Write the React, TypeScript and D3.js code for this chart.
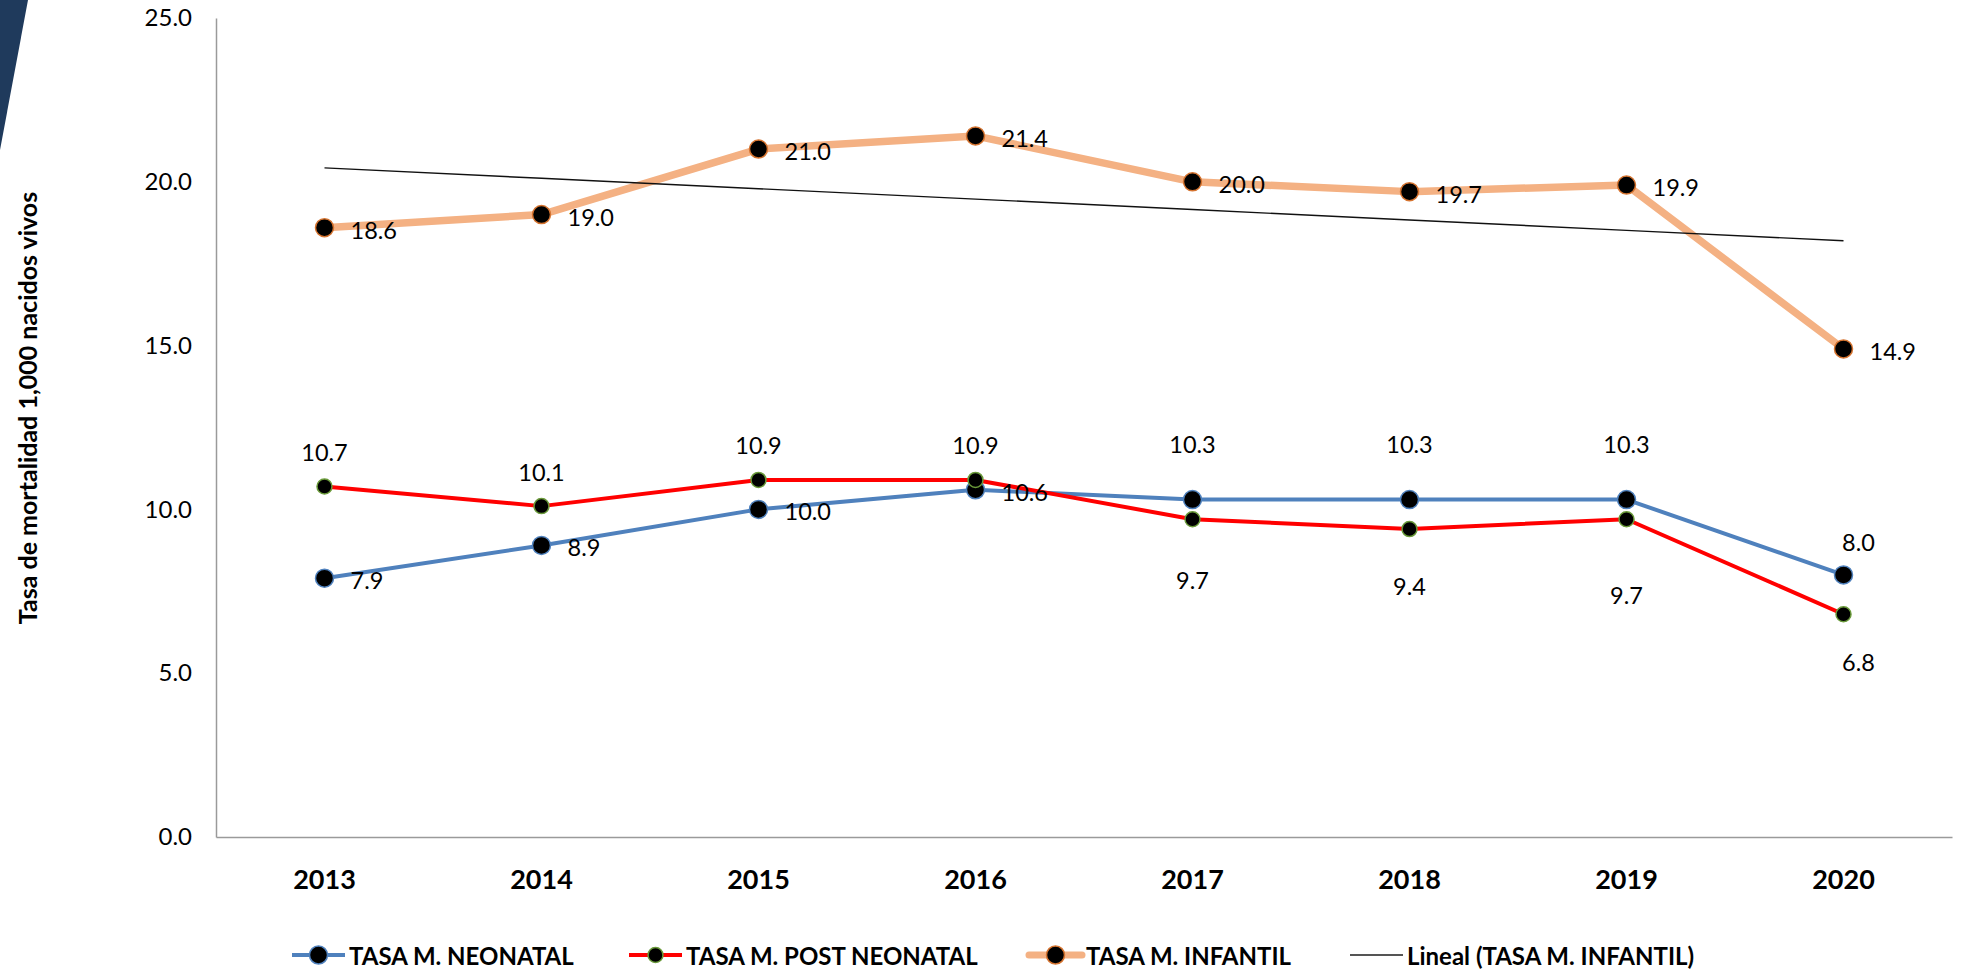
import React, { useRef, useEffect } from 'react';
import * as d3 from 'd3';

const years = ['2013', '2014', '2015', '2016', '2017', '2018', '2019', '2020'];
const neonatal = [7.9, 8.9, 10.0, 10.6, 10.3, 10.3, 10.3, 8.0];
const postNeonatal = [10.7, 10.1, 10.9, 10.9, 9.7, 9.4, 9.7, 6.8];
const infantil = [18.6, 19.0, 21.0, 21.4, 20.0, 19.7, 19.9, 14.9];
const yTicks = [0, 5, 10, 15, 20, 25];

const legendNames = ['TASA M. NEONATAL', 'TASA M. POST NEONATAL', 'TASA M. INFANTIL', 'Lineal (TASA M. INFANTIL)'];
const yTitle = 'Tasa de mortalidad 1,000 nacidos vivos';

// donde va cada etiqueta (dx, dy respecto al marcador)
const neoLabelOff = [[26, 2], [26, 2], [26, 2], [26, 2], [0, -56], [0, -56], [0, -56], [15, -33]];
const postLabelOff = [[0, -34], [0, -34], [0, -35], [0, -35], [0, 61], [0, 57], [0, 76], [15, 48]];
const infLabelOff = [[26, 2], [26, 2], [26, 2], [26, 2], [26, 2], [26, 2], [26, 2], [26, 2]];

const FONT = 'Lato, "DejaVu Sans", sans-serif';

const plot = (svgRef) => {
     const svg = d3.select(svgRef.current);
     svg.selectAll('*').remove();

     const margin = { left: 216, right: 13, top: 18, bottom: 134 };
     const width = 1965;
     const height = 971;

     const x = d3.scaleBand()
          .domain(years)
          .range([margin.left, width - margin.right])
          .padding(0);

     const y = d3.scaleLinear()
          .domain([0, 25])
          .range([height - margin.bottom, margin.top]);

     const cx = (i) => x(years[i]) + x.bandwidth() / 2;

     // decoracion esquina
     svg.append('polygon')
          .attr('points', '0,0 28,0 0,150')
          .attr('fill', '#1f3a5c');

     // eje y
     const yAxis = d3.axisLeft(y).tickValues(yTicks).tickFormat(d3.format('.1f')).tickSize(0).tickPadding(24);
     svg.append('g')
          .attr('transform', `translate(${margin.left},0)`)
          .call(yAxis)
          .call(g => g.select('.domain').attr('stroke', '#9a9a9a').attr('stroke-width', 1.5))
          .call(g => g.selectAll('text').attr('font-family', FONT).attr('font-size', 24).attr('fill', '#000'));

     // eje x
     const xAxis = d3.axisBottom(x).tickSize(0).tickPadding(30);
     svg.append('g')
          .attr('transform', `translate(0,${height - margin.bottom})`)
          .call(xAxis)
          .call(g => g.select('.domain').attr('stroke', '#9a9a9a').attr('stroke-width', 1.5))
          .call(g => g.selectAll('text')
               .attr('font-family', FONT).attr('font-size', 27).attr('font-weight', 'bold').attr('fill', '#000')
               .attr('dy', null).attr('dominant-baseline', 'central').attr('y', 41));

     // titulo eje y
     svg.append('text')
          .attr('transform', `translate(37,408) rotate(-90)`)
          .attr('text-anchor', 'middle')
          .attr('font-family', FONT)
          .attr('font-size', 25)
          .attr('font-weight', 'bold')
          .text(yTitle);

     const line = d3.line().x((d, i) => cx(i)).y(d => y(d));

     const series = [
          { data: neonatal, color: '#4f81bd', width: 4, r: 9, mstroke: '#4f81bd', off: neoLabelOff },
          { data: postNeonatal, color: '#ff0000', width: 4, r: 7.5, mstroke: '#6a9a3a', off: postLabelOff },
          { data: infantil, color: '#f4b183', width: 7.5, r: 9, mstroke: '#d5732f', off: infLabelOff },
     ];

     series.forEach(s => {
          svg.append('path')
               .datum(s.data)
               .attr('fill', 'none')
               .attr('stroke', s.color)
               .attr('stroke-width', s.width)
               .attr('stroke-linejoin', 'round')
               .attr('d', line);
     });

     // linea de tendencia (minimos cuadrados)
     const xi = infantil.map((d, i) => i + 1);
     const mx = d3.mean(xi);
     const my = d3.mean(infantil);
     const slope = d3.sum(xi, (v, i) => (v - mx) * (infantil[i] - my)) / d3.sum(xi, v => (v - mx) * (v - mx));
     const inter = my - slope * mx;
     const trend = xi.map(v => inter + slope * v);
     svg.append('path')
          .datum(trend)
          .attr('fill', 'none')
          .attr('stroke', '#111')
          .attr('stroke-width', 1.4)
          .attr('d', line);

     series.forEach(s => {
          svg.append('g').selectAll('circle')
               .data(s.data)
               .join('circle')
               .attr('cx', (d, i) => cx(i))
               .attr('cy', d => y(d))
               .attr('r', s.r)
               .attr('fill', '#000')
               .attr('stroke', s.mstroke)
               .attr('stroke-width', 1.5);
     });

     series.forEach(s => {
          svg.append('g').selectAll('text')
               .data(s.data)
               .join('text')
               .attr('x', (d, i) => cx(i) + s.off[i][0])
               .attr('y', (d, i) => y(d) + s.off[i][1])
               .attr('text-anchor', (d, i) => s.off[i][0] > 20 ? 'start' : 'middle')
               .attr('dominant-baseline', 'central')
               .attr('font-family', FONT)
               .attr('font-size', 23.5)
               .attr('fill', '#000')
               .text(d => d3.format('.1f')(d));
     });

     // leyenda
     const legY = 955;
     const legX = [292, 629, 1029, 1350];
     const legItems = [
          { color: '#4f81bd', width: 4, r: 9, mstroke: '#4f81bd' },
          { color: '#ff0000', width: 4, r: 7.5, mstroke: '#6a9a3a' },
          { color: '#f4b183', width: 7, r: 9, mstroke: '#d5732f' },
          { color: '#555', width: 2, r: 0, mstroke: null },
     ];
     legItems.forEach((it, k) => {
          const g = svg.append('g').attr('transform', `translate(${legX[k]},${legY})`);
          g.append('line')
               .attr('x1', 0).attr('x2', 53).attr('y1', 0).attr('y2', 0)
               .attr('stroke', it.color).attr('stroke-width', it.width)
               .attr('stroke-linecap', k === 2 ? 'round' : 'butt');
          if (it.r > 0) {
               g.append('circle').attr('cx', 26.5).attr('cy', 0).attr('r', it.r)
                    .attr('fill', '#000').attr('stroke', it.mstroke).attr('stroke-width', 1.5);
          }
          g.append('text')
               .attr('x', 57).attr('y', 0)
               .attr('dominant-baseline', 'central')
               .attr('font-family', FONT).attr('font-size', 24).attr('font-weight', 'bold')
               .text(legendNames[k]);
     });
};

export default function App() {
     const svgRef = useRef(null);

     useEffect(() => {
          plot(svgRef);
     }, []);

     return (
          <svg ref={svgRef} width={1965} height={971}
               style={{ position: 'absolute', left: 0, top: 0, background: '#fff' }} />
     );
}
